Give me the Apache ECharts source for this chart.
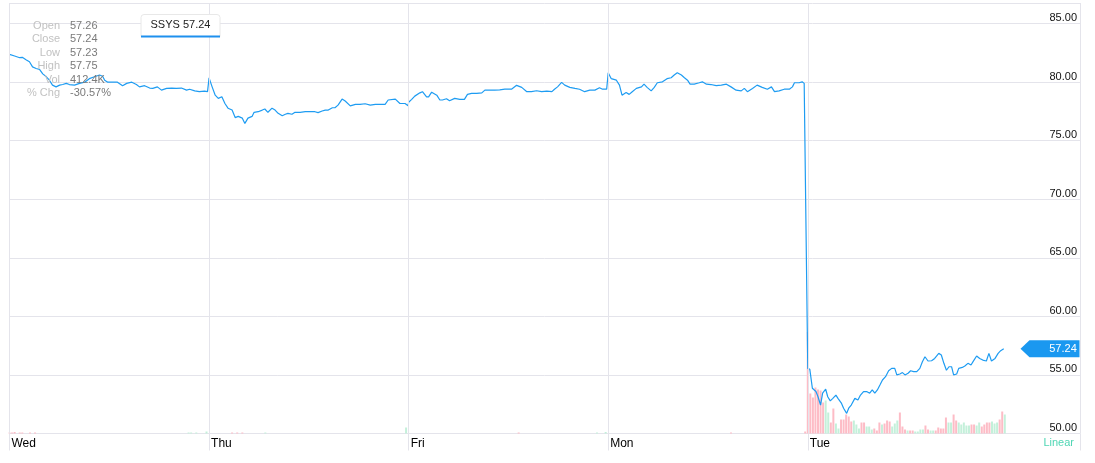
<!DOCTYPE html>
<html><head><meta charset="utf-8">
<script src="https://cdn.jsdelivr.net/npm/echarts@6/dist/echarts.min.js"></script>
<style>html,body{margin:0;padding:0;background:#fff}#c{width:1095px;height:463px}</style>
</head><body><div id="c"></div>
<script>
// ---------- DATA ----------
const dayNames = ['Wed', 'Thu', 'Fri', 'Mon', 'Tue'];
const SESSION_MIN = 390;           // minutes per trading day
const X_MAX = 2092;                // axis end (minutes), includes blank right margin
const yTicks = [50, 55, 60, 65, 70, 75, 80, 85];

// minutes after open, price
const wedMin = [0,10,20,25,33,39,45,52,59,65,72,78,84,91,98,104,111,117,127,137,147,156,166,176,182,186,192,201,211,221,229,239,248,254,264,274,280,289,297,307,317,326,336,346,352,362,371,381,387];
const wedPx  = [82.37,82.23,82.08,82.11,81.89,81.73,81.3,81.16,81.07,80.7,80.45,80.16,79.74,79.59,79.74,79.79,79.89,79.79,79.74,79.89,79.99,80.29,80.45,80.6,80.5,80.16,79.99,79.99,79.99,79.69,79.89,79.99,79.79,79.59,79.69,79.49,79.46,79.59,79.31,79.46,79.49,79.46,79.49,79.31,79.39,79.25,79.18,79.23,79.18];

const thuMin = [0,6,12,18,25,31,37,45,51,57,65,70,76,84,88,96,104,109,115,123,129,135,143,149,154,162,168,178,188,197,207,213,221,227,233,241,246,252,260,266,276,286,295,305,315,325,335,344,350,364,373,383,389];
const thuPx  = [80.36,79.59,78.88,78.61,78.75,78.17,77.77,77.61,76.97,77.07,76.92,76.47,76.92,77.07,77.42,77.47,77.61,77.7,77.42,77.77,77.61,77.33,77.13,77.25,77.33,77.25,77.42,77.42,77.47,77.47,77.47,77.39,77.53,77.61,77.61,77.81,77.81,78.03,78.55,78.38,77.97,78.09,78.09,78.15,78.03,78.09,78.09,78.09,78.47,78.55,78.17,78.17,77.97];

const friMin = [0,6,12,22,27,35,39,45,55,61,66,74,80,90,100,109,115,123,133,143,149,158,168,178,188,201,211,221,231,240,250,260,270,280,285,291,299,305,315,325,334,344,354,364,373,379,387];
const friPx  = [78.28,78.52,78.8,79.08,79.18,78.74,78.74,79.14,78.88,78.47,78.47,78.58,78.41,78.61,78.52,78.52,78.95,79.03,79.03,79.08,79.31,79.31,79.31,79.34,79.39,79.39,79.72,79.55,79.18,79.18,79.26,79.18,79.23,79.18,79.39,79.59,79.97,79.74,79.55,79.46,79.39,79.18,79.31,79.31,79.51,79.39,79.39];

const monMin = [0,6,16,22,27,35,41,47,55,65,70,76,84,90,96,106,115,123,129,135,143,149,155,160,168,178,184,192,201,211,221,231,240,250,260,266,272,282,291,301,311,319,325,334,344,354,360,364,373,379,383];
const monPx  = [80.8,80.29,80.16,79.74,78.88,79.11,78.95,79.18,79.46,79.59,79.82,79.55,79.25,79.55,79.94,80.02,80.29,80.37,80.6,80.8,80.6,80.37,80.16,79.82,79.82,79.94,80.02,79.82,79.79,79.69,79.74,79.82,79.59,79.31,79.25,79.46,79.18,79.46,79.74,79.55,79.39,79.59,79.18,79.25,79.39,79.39,79.59,79.94,79.94,80.02,79.89];

const tueMin = [0,4,9,16,20,25,29,35,39,44,49,55,59,66,70,76,80,85,92,98,103,109,115,121,126,131,136,141,146,152,158,164,170,174,180,185,190,196,201,207,213,219,224,229,235,242,248,256,261,266,271,276,281,285,291,295,302,307,313,319,323,330,336,342,349,354,359,366,372,377,383];
const tuePx  = [55.56,55.48,53.86,53.58,53.14,52.43,53.44,53.78,53.14,52.79,53.0,53.28,53.0,52.57,52.16,51.72,52.16,52.43,53.0,52.86,53.28,53.58,53.58,53.44,53.72,53.44,53.72,54.14,54.57,54.85,55.36,55.56,55.56,55.0,55.08,55.2,55.0,55.14,55.36,55.28,55.28,55.56,56.13,56.55,56.19,56.21,56.41,56.84,56.7,55.99,55.4,55.7,55.7,55.0,55.08,55.56,55.64,55.76,55.99,55.85,56.13,56.62,56.41,56.27,56.19,56.84,56.19,56.41,56.84,57.07,57.24];

// Tuesday 5-minute volume (thousand shares) and direction (d = down/red, u = up/green)
const tueVol = [2030,800,720,920,880,860,620,660,420,220,500,200,100,280,280,380,340,240,260,180,100,220,220,140,140,80,100,60,220,180,200,260,240,140,200,260,420,140,80,60,60,60,40,40,80,80,160,80,60,60,60,120,100,100,320,220,220,380,260,220,180,220,160,160,180,180,160,220,140,180,220,220,240,200,220,280,440,380];
const tueDir = 'ddddddduudduuddddduuudduuuddduddduuudddudduuuudduuddddduudduuuuudduudddduuudduuuud'.split('');
// sparse volume on the other days: [dayIndex, minute, volume, dir]
const otherVol = [
  [0,0,20,'d'],[0,5,20,'d'],[0,10,30,'d'],[0,20,20,'d'],[0,25,20,'d'],[0,40,20,'d'],[0,50,20,'d'],
  [0,350,20,'u'],[0,355,20,'u'],[0,365,20,'u'],[0,385,40,'u'],
  [1,45,20,'d'],[1,55,20,'d'],[1,65,20,'d'],[1,110,20,'u'],[1,385,120,'u'],
  [2,215,20,'d'],[2,368,20,'u'],[2,385,30,'u'],
  [3,240,20,'d'],[3,385,40,'d']
];

const lastClose = 57.24;
const legendText = 'SSYS 57.24';
const infoLabels = ['Open', 'Close', 'Low', 'High', 'Vol', '% Chg'];
const infoValues = ['57.26', '57.24', '57.23', '57.75', '412.4K', '-30.57%'];

// ---------- BUILD ----------
const days = [[wedMin, wedPx], [thuMin, thuPx], [friMin, friPx], [monMin, monPx], [tueMin, tuePx]];
const priceData = [];
days.forEach(([mins, px], d) => mins.forEach((m, i) => priceData.push([d * SESSION_MIN + m, px[i]])));
const dayStarts = dayNames.map((n, i) => i * SESSION_MIN);
const xTickValues = dayStarts.concat([X_MAX]);

const RED = '#fdbcc6', GREEN = '#c4f0da';
const volData = [];
otherVol.forEach(([d, m, v, dir]) => volData.push({ value: [d * SESSION_MIN + m, v], itemStyle: { color: dir === 'd' ? RED : GREEN } }));
tueVol.forEach((v, i) => volData.push({ value: [4 * SESSION_MIN + i * 5, v], itemStyle: { color: tueDir[i] === 'd' ? RED : GREEN } }));

const FONT = "'Liberation Sans', Arial, sans-serif";
const GRIDC = '#e4e4eb';
const BLUE = '#1e9cf2';

const graphics = [];
infoLabels.forEach((t, i) => {
  graphics.push({ type: 'text', x: 60, y: 26 + i * 13.4, z: 100,
    style: { text: t, fill: '#c2c2c2', font: '11px ' + FONT, textAlign: 'right', textVerticalAlign: 'middle' } });
  graphics.push({ type: 'text', x: 70, y: 26 + i * 13.4, z: 100,
    style: { text: infoValues[i], fill: '#7a7a7a', font: '11px ' + FONT, textAlign: 'left', textVerticalAlign: 'middle' } });
});
graphics.push({ type: 'rect', x: 141, y: 14.5, z: 100, shape: { width: 79, height: 22, r: [3, 3, 0, 0] },
  style: { fill: '#fff', stroke: '#e8e8e8', lineWidth: 1 } });
graphics.push({ type: 'line', z: 101, shape: { x1: 141, y1: 36.5, x2: 220, y2: 36.5 }, style: { stroke: '#1e90ee', lineWidth: 2 } });
graphics.push({ type: 'text', x: 180.5, y: 25, z: 101,
  style: { text: legendText, fill: '#222', font: '11px ' + FONT, textAlign: 'center', textVerticalAlign: 'middle' } });
graphics.push({ type: 'text', x: 1074, y: 443, z: 100,
  style: { text: 'Linear', fill: '#4fd6b4', font: '11px ' + FONT, textAlign: 'right', textVerticalAlign: 'middle' } });

const chart = echarts.init(document.getElementById('c'), null, { renderer: 'canvas' });
chart.setOption({
  animation: false,
  grid: { left: 9.5, right: 15, top: 3, bottom: 29.5, containLabel: false },
  xAxis: {
    type: 'value', min: 0, max: X_MAX, interval: SESSION_MIN,
    axisLine: { show: true, lineStyle: { color: GRIDC } },
    axisTick: { show: true, length: 17, customValues: xTickValues, lineStyle: { color: GRIDC } },
    splitLine: { show: false },
    axisLabel: {
      show: true, customValues: dayStarts, showMinLabel: true, margin: 4, align: 'left', padding: [0, 0, 0, 2],
      color: '#000', fontSize: 12, fontFamily: FONT,
      formatter: v => { const d = Math.round(v / SESSION_MIN); return (d < dayNames.length) ? dayNames[d] : ''; }
    }
  },
  yAxis: [{
    type: 'value', position: 'right', min: yTicks[0], max: 86.75, interval: 5,
    axisLine: { show: false }, axisTick: { show: false },
    splitLine: { show: true, lineStyle: { color: GRIDC } },
    axisLabel: {
      inside: true, margin: 3, color: '#111', fontSize: 11, fontFamily: FONT, verticalAlign: 'bottom',
      formatter: v => (yTicks.indexOf(v) >= 0 ? v.toFixed(2) : '')
    }
  }, {
    type: 'value', min: 0, max: 8610, show: false, splitLine: { show: false }
  }],
  graphic: graphics,
  series: [{
    type: 'bar', yAxisIndex: 1, data: volData, barWidth: 2, z: 1, silent: true,
    markLine: {
      silent: true, symbol: 'none', animation: false,
      lineStyle: { color: GRIDC, width: 1, type: 'solid' }, label: { show: false },
      emphasis: { disabled: true },
      data: xTickValues.map(v => ({ xAxis: v }))
    }
  }, {
    type: 'line', data: priceData, showSymbol: false, z: 3, clip: false,
    lineStyle: { color: BLUE, width: 1.2 }, itemStyle: { color: BLUE },
    markPoint: {
      symbol: 'path://M0,8.5L9,0L59,0L59,17L9,17Z', symbolSize: [59, 17], symbolKeepAspect: false,
      symbolOffset: [-30, 0], silent: true,
      itemStyle: { color: '#1a98f0' },
      label: { show: true, position: 'inside', offset: [13, 0], color: '#fff', fontSize: 11, fontFamily: FONT, formatter: String(lastClose.toFixed(2)) },
      data: [{ coord: [X_MAX, lastClose] }]
    }
  }]
});
</script></body></html>
